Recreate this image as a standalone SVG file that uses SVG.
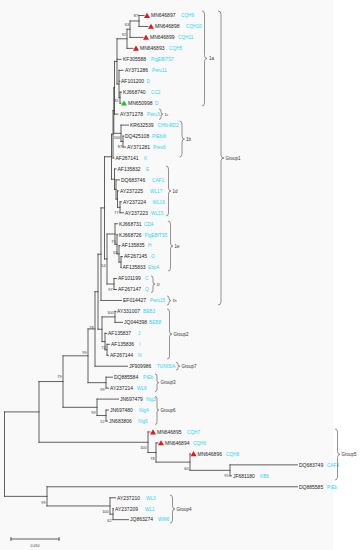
<svg xmlns="http://www.w3.org/2000/svg" xmlns:xlink="http://www.w3.org/1999/xlink" width="362" height="550" viewBox="0 0 362 550">
<style>
text{font-family:"Liberation Sans",Arial,sans-serif}
.a{font-size:5px;fill:#222}
.c{font-size:4.7px;fill:#1fd6f2}
.bs{font-size:3.8px;fill:#333;text-anchor:end}
.g{font-size:4.5px;fill:#333}
.br{fill:none;stroke:#666;stroke-width:0.7}
.tr{fill:none;stroke:#3a3a3a;stroke-width:0.8;stroke-linecap:square}
</style>
<defs>
<path id="triR" d="M-3,2.4L3,2.4L0,-2.8Z" fill="#e5161c"/>
<path id="triG" d="M-3,2.4L3,2.4L0,-2.8Z" fill="#22c322"/>
</defs>
<rect x="0" y="0" width="362" height="550" fill="#ffffff"/>
<rect x="0" y="0" width="333" height="550" fill="#f9f9f9"/>
<g id="connectors">
<path class="tr" d="M139,15.5V26.46 M130,20.98V37.42 M130,20.98H139 M127,29.2V48.38 M127,29.2H130 M117,38.79V84 M117,38.79H127 M117,84H119 M119,70.3V97.7 M119,97.7H120 M120,92.22V103.18 M114.5,61.4V114.14 M114.5,61.4H117 M123,136.06V147.02 M121,125.1V141.54 M121,141.54H123 M113.8,87.77V133.32 M113.8,87.77H114.5 M113.8,133.32H121 M113,110.55V157.98 M113,110.55H113.8 M120,201.82V212.78 M117.5,190.86V207.3 M117.5,207.3H120 M116,179.9V199.08 M116,199.08H117.5 M114.5,168.94V189.49 M114.5,189.49H116 M111.5,134.26V179.22 M111.5,134.26H113 M111.5,179.22H114.5 M121,256.62V267.58 M119,245.66V262.1 M119,262.1H121 M117,234.7V253.88 M117,253.88H119 M115,223.74V244.29 M115,244.29H117 M114,278.54V289.5 M107,234V284.02 M107,234H115 M107,284.02H114 M104.5,156.74V259 M104.5,156.74H111.5 M104.5,259H107 M101,207.9V300.46 M101,207.9H104.5 M115,311.42V322.38 M107,344.3V355.26 M105,333.34V349.78 M105,349.78H107 M102,316.9V341.56 M102,316.9H115 M102,341.56H105 M98,254.2V329.23 M98,254.2H101 M98,329.23H102 M95,291.7V366.22 M95,291.7H98 M106,377.18V388.14 M88,328.96V382.66 M88,328.96H95 M88,382.66H106 M106,410.06V421.02 M97,399.1V415.54 M97,415.54H106 M63,355.8V407.32 M63,355.8H88 M63,407.32H97 M230,464.86V475.82 M190,453.9V470.34 M190,470.34H230 M156,442.94V462.12 M156,462.12H190 M148,431.98V452.53 M148,452.53H156 M39,381.56V442.26 M39,381.56H63 M39,442.26H148 M113,508.7V519.66 M110,497.74V514.18 M110,514.18H113 M47,486.78V505.96 M47,505.96H110 M4.5,411.91V496.37 M4.5,411.91H39 M4.5,496.37H47"/>
<path class="tr" d="M139,15.5H144 M139,26.46H148 M130,37.42H143 M127,48.38H133 M117,59.34H121 M119,70.3H123 M119,81.26H119.8 M120,92.22H121.5 M120,103.18H121 M114.5,114.14H118 M121,125.1H128.5 M123,136.06H123.8 M123,147.02H125.5 M113,157.98H114 M114.5,168.94H116 M116,179.9H119.5 M117.5,190.86H118.5 M120,201.82H121.5 M120,212.78H123.5 M115,223.74H117.5 M117,234.7H117.8 M119,245.66H120 M121,256.62H122.5 M121,267.58H121.2 M114,278.54H116.5 M114,289.5H116.5 M101,300.46H121.5 M115,311.42H115.8 M115,322.38H122.5 M105,333.34H106.8 M107,344.3H109.5 M107,355.26H108.5 M95,366.22H127.5 M106,377.18H112.5 M106,388.14H108.5 M97,399.1H118.5 M106,410.06H108.5 M106,421.02H107.5 M148,431.98H150 M156,442.94H158 M190,453.9H190.3 M230,464.86H297.5 M230,475.82H231.5 M47,486.78H297.5 M110,497.74H115.5 M113,508.7H113.5 M113,519.66H128.5"/>
</g>
<g id="bootstrap">
<text class="bs" x="138" y="16.5">87</text>
<text class="bs" x="129" y="26">63</text>
<text class="bs" x="126" y="35.5">92</text>
<text class="bs" x="118.5" y="101.5">85</text>
<text class="bs" x="120" y="139">100</text>
<text class="bs" x="122" y="148">87</text>
<text class="bs" x="118.5" y="213.5">77</text>
<text class="bs" x="115.5" y="242.5">75</text>
<text class="bs" x="117.5" y="254">65</text>
<text class="bs" x="105.5" y="266.5">54</text>
<text class="bs" x="112.5" y="290.5">97</text>
<text class="bs" x="113.5" y="313.5">100</text>
<text class="bs" x="105.5" y="348.5">72</text>
<text class="bs" x="93.5" y="328.5">78</text>
<text class="bs" x="86.5" y="353.5">99</text>
<text class="bs" x="61.5" y="378">79</text>
<text class="bs" x="104.5" y="390.5">99</text>
<text class="bs" x="95.5" y="413.5">99</text>
<text class="bs" x="104.5" y="422.5">52</text>
<text class="bs" x="146.5" y="448.5">100</text>
<text class="bs" x="154.5" y="459.5">78</text>
<text class="bs" x="188.5" y="469.5">60</text>
<text class="bs" x="228.5" y="476.5">95</text>
<text class="bs" x="45.5" y="503.5">99</text>
<text class="bs" x="108.5" y="513">100</text>
<text class="bs" x="111.5" y="521.5">62</text>
</g>
<g id="leaf-MN646897"><use xlink:href="#triR" x="147" y="15.5"/><text class="a" x="151" y="17.3">MN646897</text><text class="c" x="181" y="17.3">CQH9</text></g>
<g id="leaf-MN646898"><use xlink:href="#triR" x="151" y="26.46"/><text class="a" x="155" y="28.26">MN646898</text><text class="c" x="186" y="28.26">CQH10</text></g>
<g id="leaf-MN646899"><use xlink:href="#triR" x="146" y="37.42"/><text class="a" x="150" y="39.22">MN646899</text><text class="c" x="178" y="39.22">CQH11</text></g>
<g id="leaf-MN646893"><use xlink:href="#triR" x="136" y="48.38"/><text class="a" x="140" y="50.18">MN646893</text><text class="c" x="169" y="50.18">CQH5</text></g>
<g id="leaf-KF305588"><text class="a" x="123" y="61.14">KF305588</text><text class="c" x="151" y="61.14">PigEBITS7</text></g>
<g id="leaf-AY371286"><text class="a" x="125" y="72.1">AY371286</text><text class="c" x="152" y="72.1">Peru11</text></g>
<g id="leaf-AF101200"><text class="a" x="121" y="83.06">AF101200</text><text class="c" x="146.5" y="83.06">D</text></g>
<g id="leaf-KJ668740"><text class="a" x="123" y="94.02">KJ668740</text><text class="c" x="151" y="94.02">CC2</text></g>
<g id="leaf-MN650998"><use xlink:href="#triG" x="124" y="103.18"/><text class="a" x="128" y="104.98">MN650998</text><text class="c" x="155" y="104.98">D</text></g>
<g id="leaf-AY371278"><text class="a" x="120" y="115.94">AY371278</text><text class="c" x="147" y="115.94">Peru3</text></g>
<g id="leaf-KR632539"><text class="a" x="130" y="126.9">KR632539</text><text class="c" x="157.5" y="126.9">CHN-RD2</text></g>
<g id="leaf-DQ425108"><text class="a" x="125" y="137.86">DQ425108</text><text class="c" x="152" y="137.86">PtEbIII</text></g>
<g id="leaf-AY371281"><text class="a" x="127" y="148.82">AY371281</text><text class="c" x="153" y="148.82">Peru6</text></g>
<g id="leaf-AF267141"><text class="a" x="115.5" y="159.78">AF267141</text><text class="c" x="144" y="159.78">K</text></g>
<g id="leaf-AF135832"><text class="a" x="117.5" y="170.74">AF135832</text><text class="c" x="146" y="170.74">E</text></g>
<g id="leaf-DQ683746"><text class="a" x="121" y="181.7">DQ683746</text><text class="c" x="152" y="181.7">CAF1</text></g>
<g id="leaf-AY237225"><text class="a" x="120" y="192.66">AY237225</text><text class="c" x="150" y="192.66">WL17</text></g>
<g id="leaf-AY237224"><text class="a" x="123" y="203.62">AY237224</text><text class="c" x="152.5" y="203.62">WL16</text></g>
<g id="leaf-AY237223"><text class="a" x="125" y="214.58">AY237223</text><text class="c" x="151" y="214.58">WL15</text></g>
<g id="leaf-KJ668731"><text class="a" x="119" y="225.54">KJ668731</text><text class="c" x="144" y="225.54">CD4</text></g>
<g id="leaf-KJ668726"><text class="a" x="119" y="236.5">KJ668726</text><text class="c" x="144.5" y="236.5">PigEBITS5</text></g>
<g id="leaf-AF135835"><text class="a" x="121.5" y="247.46">AF135835</text><text class="c" x="148" y="247.46">H</text></g>
<g id="leaf-AF267145"><text class="a" x="124" y="258.42">AF267145</text><text class="c" x="151" y="258.42">O</text></g>
<g id="leaf-AF135833"><text class="a" x="122.5" y="269.38">AF135833</text><text class="c" x="148" y="269.38">EbpA</text></g>
<g id="leaf-AF101199"><text class="a" x="118" y="280.34">AF101199</text><text class="c" x="145" y="280.34">C</text></g>
<g id="leaf-AF267147"><text class="a" x="118" y="291.3">AF267147</text><text class="c" x="145" y="291.3">Q</text></g>
<g id="leaf-EF014427"><text class="a" x="123" y="302.26">EF014427</text><text class="c" x="150" y="302.26">Peru15</text></g>
<g id="leaf-AY331007"><text class="a" x="117" y="313.22">AY331007</text><text class="c" x="143" y="313.22">BEB3</text></g>
<g id="leaf-JQ044398"><text class="a" x="124" y="324.18">JQ044398</text><text class="c" x="149" y="324.18">BEB8</text></g>
<g id="leaf-AF135837"><text class="a" x="108" y="335.14">AF135837</text><text class="c" x="138" y="335.14">J</text></g>
<g id="leaf-AF135836"><text class="a" x="111" y="346.1">AF135836</text><text class="c" x="139" y="346.1">I</text></g>
<g id="leaf-AF267144"><text class="a" x="110" y="357.06">AF267144</text><text class="c" x="138" y="357.06">N</text></g>
<g id="leaf-JF909986"><text class="a" x="129" y="368.02">JF909986</text><text class="c" x="157" y="368.02">TUNISIA</text></g>
<g id="leaf-DQ885584"><text class="a" x="114" y="378.98">DQ885584</text><text class="c" x="143" y="378.98">PtEb</text></g>
<g id="leaf-AY237214"><text class="a" x="110" y="389.94">AY237214</text><text class="c" x="137" y="389.94">WL8</text></g>
<g id="leaf-JN697479"><text class="a" x="120" y="400.9">JN697479</text><text class="c" x="146" y="400.9">Nig3</text></g>
<g id="leaf-JN697480"><text class="a" x="110" y="411.86">JN697480</text><text class="c" x="139" y="411.86">Nig4</text></g>
<g id="leaf-JN683806"><text class="a" x="109" y="422.82">JN683806</text><text class="c" x="138" y="422.82">Nig6</text></g>
<g id="leaf-MN646895"><use xlink:href="#triR" x="153" y="431.98"/><text class="a" x="157" y="433.78">MN646895</text><text class="c" x="187" y="433.78">CQH7</text></g>
<g id="leaf-MN646894"><use xlink:href="#triR" x="161" y="442.94"/><text class="a" x="165" y="444.74">MN646894</text><text class="c" x="193" y="444.74">CQH6</text></g>
<g id="leaf-MN646896"><use xlink:href="#triR" x="193.5" y="453.9"/><text class="a" x="197.5" y="455.7">MN646896</text><text class="c" x="226" y="455.7">CQH8</text></g>
<g id="leaf-DQ683749"><text class="a" x="299" y="466.66">DQ683749</text><text class="c" x="327" y="466.66">CAF4</text></g>
<g id="leaf-JF681180"><text class="a" x="233" y="477.62">JF681180</text><text class="c" x="260" y="477.62">KB6</text></g>
<g id="leaf-DQ885585"><text class="a" x="299" y="488.58">DQ885585</text><text class="c" x="327" y="488.58">PtEb</text></g>
<g id="leaf-AY237210"><text class="a" x="117" y="499.54">AY237210</text><text class="c" x="146" y="499.54">WL3</text></g>
<g id="leaf-AY237209"><text class="a" x="115" y="510.5">AY237209</text><text class="c" x="145" y="510.5">WL1</text></g>
<g id="leaf-JQ863274"><text class="a" x="130" y="521.46">JQ863274</text><text class="c" x="158" y="521.46">WW6</text></g>
<g id="brackets">
<path class="br" d="M202,11Q204.5,11 204.5,14V55.5Q204.5,58.5 207,58.5Q204.5,58.5 204.5,61.5V103Q204.5,106 202,106"/>
<text class="g" x="209" y="60.2">1a</text>
<path class="br" d="M218,11Q221,11 221,14V155Q221,158 224,158Q221,158 221,161V302Q221,305 218,305"/>
<text class="g" x="225.5" y="159.6">Group1</text>
<path class="br" d="M159,109Q161,109 161,111V112.1Q161,114.1 163,114.1Q161,114.1 161,116.1V117.5Q161,119.5 159,119.5"/>
<text class="g" x="164.5" y="115.6" style="font-size:3.8px">1c</text>
<path class="br" d="M179.5,121Q182,121 182,124V136Q182,139 184.5,139Q182,139 182,142V154Q182,157 179.5,157"/>
<text class="g" x="186" y="140.6">1b</text>
<path class="br" d="M166,166Q168.5,166 168.5,169V188Q168.5,191 171,191Q168.5,191 168.5,194V213Q168.5,216 166,216"/>
<text class="g" x="172.5" y="192.6">1d</text>
<path class="br" d="M168,221Q170.5,221 170.5,224V243Q170.5,246 173,246Q170.5,246 170.5,249V268Q170.5,271 168,271"/>
<text class="g" x="174.5" y="247.6">1e</text>
<path class="br" d="M151,276Q153,276 153,278V282Q153,284 155,284Q153,284 153,286V290.5Q153,292.5 151,292.5"/>
<text class="g" x="156.5" y="285.6" style="font-size:3.8px">1f</text>
<path class="br" d="M167,296Q169,296 169,298V298.5Q169,300.5 171,300.5Q169,300.5 169,302.5V303Q169,305 167,305"/>
<text class="g" x="172.5" y="302" style="font-size:3.8px">1h</text>
<path class="br" d="M167,309Q169.5,309 169.5,312V331Q169.5,334 172,334Q169.5,334 169.5,337V356Q169.5,359 167,359"/>
<text class="g" x="173.5" y="335.6">Group2</text>
<path class="br" d="M176,362.5Q178,362.5 178,364V364.7Q178,366.2 180,366.2Q178,366.2 178,367.7V368.5Q178,370 176,370"/>
<text class="g" x="181.5" y="367.8">Group7</text>
<path class="br" d="M155,374Q157,374 157,376V380.7Q157,382.7 159,382.7Q157,382.7 157,384.7V389.5Q157,391.5 155,391.5"/>
<text class="g" x="160.5" y="384.3">Group3</text>
<path class="br" d="M155,396.5Q157,396.5 157,398.5V408Q157,410 159,410Q157,410 157,412V422.5Q157,424.5 155,424.5"/>
<text class="g" x="160.5" y="411.6">Group6</text>
<path class="br" d="M335,429Q337.5,429 337.5,432V451.5Q337.5,454.5 340,454.5Q337.5,454.5 337.5,457.5V477Q337.5,480 335,480"/>
<text class="g" x="341.5" y="456">Group5</text>
<path class="br" d="M170,495Q172.5,495 172.5,498V506Q172.5,509 175,509Q172.5,509 172.5,512V520Q172.5,523 170,523"/>
<text class="g" x="176.5" y="510.6">Group4</text>
</g>
<g id="scalebar">
<path class="tr" d="M11,539H59 M11,537.5V540.5 M59,537.5V540.5"/>
<text class="bs" x="35" y="546.5" style="text-anchor:middle;font-size:3.5px">0.050</text>
</g>
</svg>
